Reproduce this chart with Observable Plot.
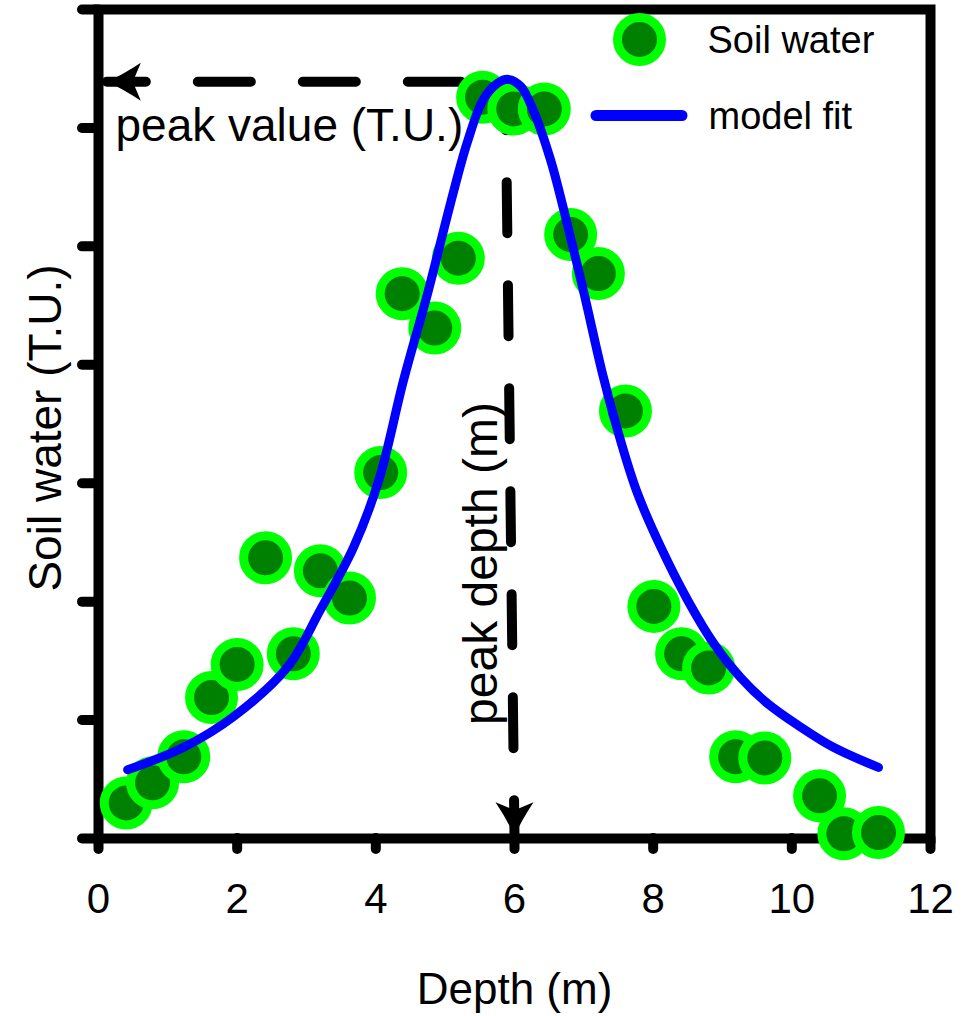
<!DOCTYPE html>
<html><head><meta charset="utf-8">
<script src="https://cdn.jsdelivr.net/npm/d3@7"></script>
<script src="https://cdn.jsdelivr.net/npm/@observablehq/plot@0.6"></script>
<style>
html,body{margin:0;padding:0;background:#fff;}
#chart svg{display:block}
</style>
</head><body><div id="chart"></div>
<script>
// Observed soil water (T.U.) vs depth (m)
const depth = [0.40, 0.78, 1.23, 1.63, 2.00, 2.41, 2.81, 3.20, 3.62, 4.07, 4.38, 4.85, 5.19, 5.54, 5.99, 6.43, 6.81, 7.21, 7.60, 8.01, 8.41, 8.80, 9.19, 9.61, 10.40, 10.75, 11.25];
const soilWater = [0.30, 0.47, 0.69, 1.19, 1.47, 2.37, 1.56, 2.26, 2.03, 3.09, 4.60, 4.31, 4.90, 6.26, 6.16, 6.16, 5.10, 4.77, 3.61, 1.96, 1.56, 1.44, 0.69, 0.68, 0.36, 0.04, 0.05];
// Model fit curve
const fitDepth = [0.42, 1.23, 1.95, 2.73, 3.20, 3.68, 4.04, 4.40, 4.75, 5.08, 5.32, 5.55, 5.76, 5.91, 6.09, 6.27, 6.52, 6.71, 7.00, 7.28, 7.53, 7.77, 8.11, 8.50, 8.87, 9.26, 9.65, 10.13, 10.60, 11.25];
const fitWater = [0.58, 0.77, 1.03, 1.45, 1.93, 2.46, 3.02, 3.87, 4.61, 5.37, 5.88, 6.24, 6.38, 6.41, 6.35, 6.15, 5.73, 5.31, 4.61, 3.90, 3.36, 2.92, 2.46, 2.01, 1.65, 1.36, 1.14, 0.94, 0.77, 0.60];
// Ticks
const xTicks = [0, 2, 4, 6, 8, 10, 12];
const yTicks = [0, 1, 2, 3, 4, 5, 6, 7];
// Peak guides (arrow tip first)
const hGuideX = [0.12, 5.91];
const hGuideY = [6.39, 6.39];
const vGuideX = [6.00, 5.87];
const vGuideY = [0.02, 6.39];

const obs = depth.map((d, i) => ({depth: d, water: soilWater[i]}));
const fit = fitDepth.map((d, i) => ({depth: d, water: fitWater[i]}));
const hGuide = hGuideX.map((x, i) => ({x, y: hGuideY[i]}));
const vGuide = vGuideX.map((x, i) => ({x, y: vGuideY[i]}));

const FONT = "'Liberation Sans', Arial, Helvetica, sans-serif";

const arrowLeft = {draw(ctx) {
  ctx.moveTo(0, 0);
  ctx.quadraticCurveTo(16, -7, 34, -19);
  ctx.lineTo(26, 0);
  ctx.lineTo(34, 19);
  ctx.quadraticCurveTo(16, 7, 0, 0);
  ctx.closePath();
}};
const arrowDown = {draw(ctx) {
  ctx.moveTo(0, 0);
  ctx.quadraticCurveTo(-7, -16, -19, -34);
  ctx.lineTo(0, -26);
  ctx.lineTo(19, -34);
  ctx.quadraticCurveTo(7, -16, 0, 0);
  ctx.closePath();
}};
const legendLine = {draw(ctx) { ctx.moveTo(-43, 0); ctx.lineTo(43, 0); }};

const txt = {fill: "black", lineAnchor: "middle"};

const chart = Plot.plot({
  width: 971,
  height: 1016,
  marginLeft: 98,
  marginRight: 41,
  marginTop: 9,
  marginBottom: 178,
  x: {domain: [0, 12]},
  y: {domain: [0, 7]},
  style: {fontFamily: FONT, fontSize: "42px", background: "white", color: "black"},
  marks: [
    Plot.axisX({ticks: xTicks, tickSize: 11, tickPadding: 34, fontSize: 42, strokeWidth: 10, strokeLinecap: "round", label: null}),
    Plot.axisY({ticks: yTicks, tickSize: 16, tickFormat: () => "", strokeWidth: 10, strokeLinecap: "round", label: null}),
    Plot.frame({stroke: "black", strokeWidth: 10}),
    // peak guides
    Plot.line(hGuide, {x: "x", y: "y", stroke: "black", strokeWidth: 10, strokeDasharray: "53,52", strokeDashoffset: 14}),
    Plot.line(vGuide, {x: "x", y: "y", stroke: "black", strokeWidth: 10, strokeDasharray: "51,52", strokeDashoffset: 15}),
    Plot.dot([hGuide[0]], {x: "x", y: "y", r: 10, symbol: arrowLeft, fill: "black", stroke: "none"}),
    Plot.dot([vGuide[0]], {x: "x", y: "y", r: 10, symbol: arrowDown, fill: "black", stroke: "none"}),
    // observations
    Plot.dot(obs, {x: "depth", y: "water", r: 22, fill: "#008000", stroke: "#00ff00", strokeWidth: 9}),
    // model fit
    Plot.line(fit, {x: "depth", y: "water", stroke: "#0000ff", strokeWidth: 9, curve: "catmull-rom", strokeLinecap: "round", strokeLinejoin: "round"}),
    // annotations
    Plot.text(["peak value (T.U.)"], {...txt, frameAnchor: "top-left", textAnchor: "start", dx: 17, dy: 117, fontSize: 46}),
    Plot.text(["peak depth (m)"], {...txt, frameAnchor: "top-left", textAnchor: "middle", rotate: -90, dx: 383, dy: 554, fontSize: 48}),
    // axis titles
    Plot.text(["Depth (m)"], {...txt, frameAnchor: "bottom", textAnchor: "middle", dy: 151, fontSize: 44}),
    Plot.text(["Soil water (T.U.)"], {...txt, frameAnchor: "left", textAnchor: "middle", rotate: -90, dx: -52, dy: 4, fontSize: 46}),
    // legend
    Plot.dot([0], {frameAnchor: "top-right", dx: -291, dy: 30, r: 22, fill: "#008000", stroke: "#00ff00", strokeWidth: 9}),
    Plot.dot([0], {frameAnchor: "top-right", dx: -291.5, dy: 106, r: 10, symbol: legendLine, fill: "none", stroke: "#0000ff", strokeWidth: 11, strokeLinecap: "round"}),
    Plot.text(["Soil water"], {...txt, frameAnchor: "top-right", textAnchor: "start", dx: -223, dy: 31, fontSize: 38}),
    Plot.text(["model fit"], {...txt, frameAnchor: "top-right", textAnchor: "start", dx: -222, dy: 107, fontSize: 38})
  ]
});
document.getElementById("chart").appendChild(chart);
</script>
</body></html>
